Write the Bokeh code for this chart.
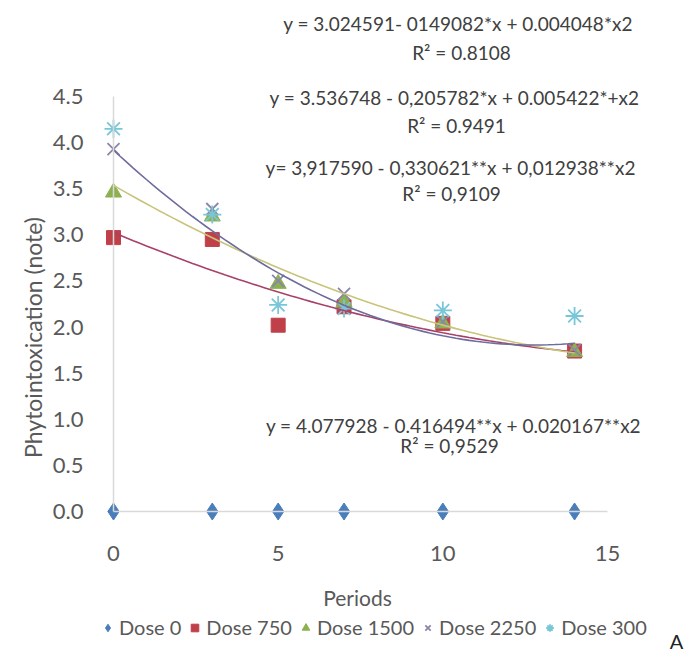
import numpy as np
from bokeh.plotting import figure
from bokeh.models import Label, Legend, LegendItem, FixedTicker, NumeralTickFormatter, Range1d
from bokeh.embed import file_html
from bokeh.resources import INLINE

# ---- data ----
periods = [0, 3, 5, 7, 10, 14]
dose_0 = [0.0, 0.0, 0.0, 0.0, 0.0, 0.0]
dose_750 = [2.97, 2.95, 2.02, 2.22, 2.04, 1.74]
dose_1500 = [3.46, 3.20, 2.47, 2.27, 2.04, 1.73]
dose_2250 = [3.93, 3.28, 2.50, 2.36, 2.06, 1.75]
dose_3000 = [4.15, 3.22, 2.24, 2.20, 2.18, 2.12]
series_labels = ["Dose 0", "Dose 750", "Dose 1500", "Dose 2250", "Dose 300"]

# trendline coefficients as printed in the chart (c0, c1, c2)
coef_750 = [3.024591, -0.149082, 0.004048]
coef_1500 = [3.536748, -0.205782, 0.005422]
coef_2250 = [3.917590, -0.330621, 0.012938]

eq_texts = [
    "y =  3.024591- 0149082*x + 0.004048*x2",
    "y = 3.536748 - 0,205782*x + 0.005422*+x2",
    "y= 3,917590 - 0,330621**x + 0,012938**x2",
    "y = 4.077928 - 0.416494**x + 0.020167**x2",
]
r2_texts = ["R² = 0.8108", "R² = 0.9491", "R² = 0,9109", "R² = 0,9529"]

x_ticks = [0, 5, 10, 15]
y_ticks = [0.0, 0.5, 1.0, 1.5, 2.0, 2.5, 3.0, 3.5, 4.0, 4.5]

FONT = "Lato"
GREY = "#595959"
TXT = "#404040"

W, H = 688, 653
# pixel mapping of the reference: x=0 -> 113px, x=15 -> 607px ; y=0 -> 511px, y=4.5 -> 96px
PX_X = (607 - 113) / 15.0
PX_Y = (511 - 96) / 4.5
x_range = Range1d(-113 / PX_X, (W - 113) / PX_X)
y_range = Range1d(-(H - 511) / PX_Y, 511 / PX_Y)

p = figure(width=W, height=H, x_range=x_range, y_range=y_range,
           output_backend="svg", toolbar_location=None,
           min_border_left=0, min_border_right=0,
           min_border_top=0, min_border_bottom=0)
p.outline_line_color = None
p.grid.visible = False
p.background_fill_color = "white"

for ax in (p.xaxis[0], p.yaxis[0]):
    ax.fixed_location = 0
    ax.axis_line_color = "#d9d9d9"
    ax.axis_line_width = 1.5
    ax.major_tick_line_color = None
    ax.minor_tick_line_color = None
    ax.major_label_text_font = FONT
    ax.major_label_text_font_size = "22px"
    ax.major_label_text_color = GREY
p.xaxis.ticker = FixedTicker(ticks=x_ticks)
p.yaxis.ticker = FixedTicker(ticks=y_ticks)
p.xaxis.bounds = (x_ticks[0], x_ticks[-1])
p.yaxis.bounds = (y_ticks[0], y_ticks[-1])
p.yaxis.formatter = NumeralTickFormatter(format="0.0")
p.xaxis.major_label_standoff = 28
p.yaxis.major_label_standoff = 24

r0 = p.scatter(periods, dose_0, marker="diamond", size=17, color="#4a7ebb")
r1 = p.scatter(periods, dose_750, marker="square", size=14, color="#c0404a")
r2 = p.scatter(periods, dose_1500, marker="triangle", size=16, color="#8db150")
r3 = p.scatter(periods, dose_2250, marker="x", size=17, line_color="#8a86a8", line_width=1.8)
r4 = p.scatter(periods, dose_3000, marker="asterisk", size=18, line_color="#78c6d8", line_width=1.8)

xs = np.linspace(periods[0], periods[-1], 71)
for coef, col in ((coef_750, "#a8406a"), (coef_1500, "#c8c47a"), (coef_2250, "#6e6c9c")):
    ys = coef[0] + coef[1] * xs + coef[2] * xs ** 2
    p.line(xs, ys, line_color=col, line_width=1.6)

legend = Legend(items=[LegendItem(label=l, renderers=[r]) for l, r in
                       zip(series_labels, [r0, r1, r2, r3, r4])],
                orientation="horizontal", location=(98, 14))
legend.label_text_font = FONT
legend.label_text_font_size = "20px"
legend.label_text_color = GREY
legend.glyph_width = 19
legend.glyph_height = 19
legend.label_standoff = 2
legend.spacing = 4
legend.padding = 0
legend.margin = 0
legend.border_line_alpha = 0
legend.background_fill_alpha = 0
p.add_layout(legend)


def put(text, px, py, size="19px", color=TXT, angle=0.0):
    p.add_layout(Label(x=px, y=H - py, x_units="screen", y_units="screen", text=text,
                       angle=angle, text_align="center", text_baseline="middle",
                       text_font=FONT, text_font_size=size, text_color=color))


eq_pos = [(460, 23), (454, 97), (450, 167), (453, 425)]
r2_pos = [(461, 52), (456, 125), (451, 193), (449, 445)]
for t, (x, y) in zip(eq_texts, eq_pos):
    put(t, x, y)
for t, (x, y) in zip(r2_texts, r2_pos):
    put(t, x, y)

put("Phytointoxication (note)", 32, 337, size="23px", color=GREY, angle=np.pi / 2)
put("Periods", 357, 597, size="21px", color=GREY)
put("A", 676, 640, size="20px", color="#222222")

open("out.html", "w").write(file_html(p, INLINE))
